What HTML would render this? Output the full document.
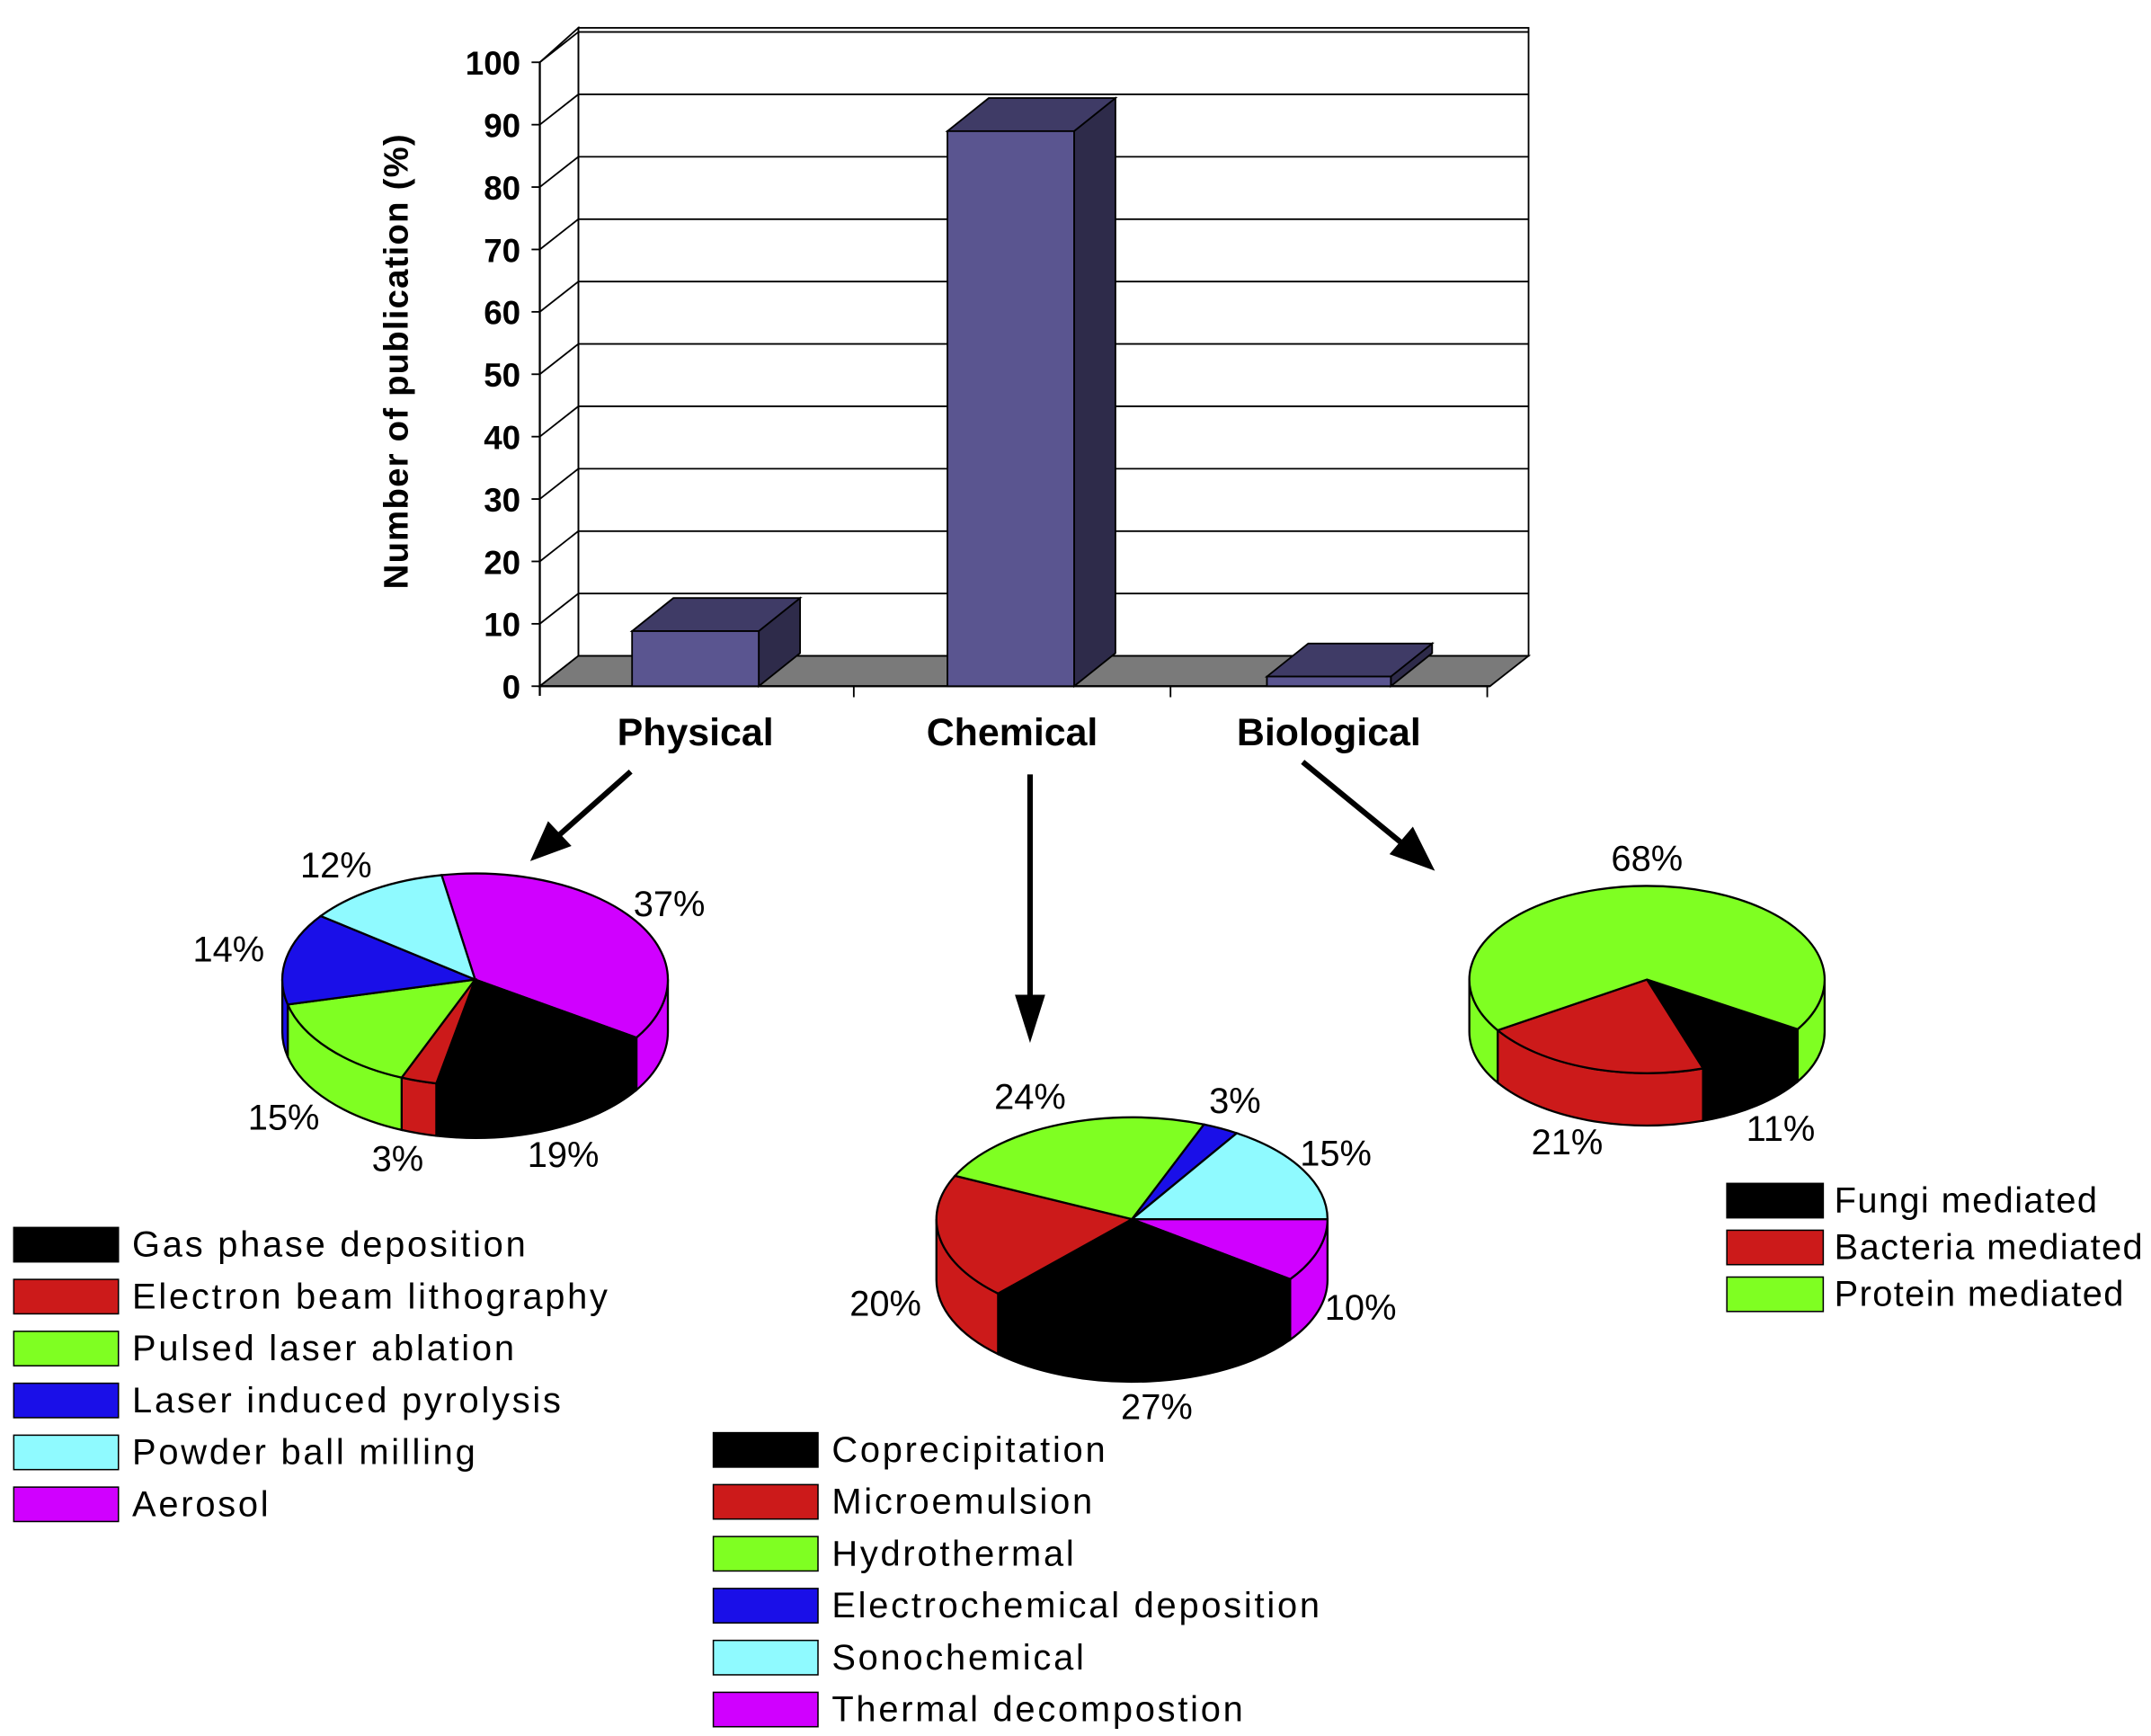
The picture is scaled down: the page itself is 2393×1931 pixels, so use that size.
<!DOCTYPE html>
<html><head><meta charset="utf-8"><style>
html,body{margin:0;padding:0;background:#fff;}
svg{display:block;font-family:"Liberation Sans",Arial,sans-serif;}
</style></head><body>
<svg id="s" width="2393" height="1931" viewBox="0 0 1562 1260" xmlns="http://www.w3.org/2000/svg">
<rect width="1562" height="1260" fill="#fff"/>
<rect x="420" y="20" width="690" height="456" fill="#fff" stroke="#000" stroke-width="1.2"/>
<polygon points="392,45 420,20 420,476 392,498" fill="#fff" stroke="#000" stroke-width="1.2"/>
<polygon points="392,498 420,476 1110,476 1082,498" fill="#7a7a7a" stroke="#000" stroke-width="1.2"/>
<g id="grid" stroke="#000" stroke-width="1.2" fill="none"></g>
<g id="ticks" font-size="24" font-weight="bold" text-anchor="end"></g>
<line x1="392" y1="45" x2="392" y2="505" stroke="#000" stroke-width="1.5"/>
<line x1="392" y1="498" x2="1082" y2="498" stroke="#000" stroke-width="1.5"/>
<g stroke="#000" stroke-width="1.2"><line x1="620" y1="498" x2="620" y2="506"/><line x1="850" y1="498" x2="850" y2="506"/><line x1="1080" y1="498" x2="1080" y2="506"/></g>
<text transform="translate(296,262) rotate(-90)" font-size="25" font-weight="bold" text-anchor="middle" letter-spacing="0.8">Number of publication (%)</text>
<g id="bars" stroke="#000" stroke-width="1.2"></g>
<g font-size="28" font-weight="bold" text-anchor="middle">
<text x="505" y="541">Physical</text><text x="735" y="541">Chemical</text><text x="965" y="541">Biological</text></g>
<g stroke="#000" stroke-width="4"><line x1="458" y1="560" x2="405" y2="607"/><line x1="748" y1="562" x2="748" y2="725"/><line x1="946" y1="553" x2="1018" y2="612"/></g>
<polygon points="385,625 398,596 415,614" fill="#000"/>
<polygon points="748,757 737,722 759,722" fill="#000"/>
<polygon points="1042,632 1009,620 1026,600" fill="#000"/>
<g id="pies" stroke="#000" stroke-width="1.5"></g>
<g font-size="26">
<text x="218" y="637">12%</text><text x="460" y="665">37%</text><text x="140" y="698">14%</text>
<text x="180" y="820">15%</text><text x="270" y="850">3%</text><text x="383" y="847">19%</text>
<text x="722" y="805">24%</text><text x="878" y="808">3%</text><text x="944" y="846">15%</text>
<text x="617" y="955">20%</text><text x="962" y="958">10%</text><text x="814" y="1030">27%</text>
<text x="1170" y="632">68%</text><text x="1112" y="838">21%</text><text x="1268" y="828">11%</text>
</g>
<g id="leg" font-size="26" stroke="#000" stroke-width="1"></g>
<script>
var NS="http://www.w3.org/2000/svg";
function el(p,t,a,txt){var e=document.createElementNS(NS,t);for(var k in a)e.setAttribute(k,a[k]);if(txt!=null)e.textContent=txt;p.appendChild(e);return e;}
var g=document.getElementById('grid'),tk=document.getElementById('ticks');
for(var v=0;v<=100;v+=10){var y=498-v*4.53;
 if(v>0){el(g,'line',{x1:392,y1:y,x2:420,y2:y-22});el(g,'line',{x1:420,y1:y-22,x2:1110,y2:y-22});}
 el(g,'line',{x1:386,y1:y,x2:392,y2:y});
 el(tk,'text',{x:378,y:y+9},String(v));}
var b=document.getElementById('bars');
[[459,551,458],[688,780,95],[920,1010,491]].forEach(function(r){
 var x0=r[0],x1=r[1],t=r[2],dx=30,dy=-24;
 el(b,'polygon',{points:x1+','+t+' '+(x1+dx)+','+(t+dy)+' '+(x1+dx)+','+(498+dy)+' '+x1+',498',fill:'#2e2b4a'});
 el(b,'polygon',{points:x0+','+t+' '+(x0+dx)+','+(t+dy)+' '+(x1+dx)+','+(t+dy)+' '+x1+','+t,fill:'#3f3b66'});
 el(b,'rect',{x:x0,y:t,width:x1-x0,height:498-t,fill:'#5a5590'});
});
var P=document.getElementById('pies');
function pie(cx,cy,rx,ry,d,start,sl){
 function pt(a,dd){var r=a*Math.PI/180;return (cx+rx*Math.cos(r)).toFixed(2)+','+(cy+ry*Math.sin(r)+(dd||0)).toFixed(2);}
 var a=start,segs=[];
 sl.forEach(function(s,i){var a1=(i==sl.length-1)?start+360:a+s[0]*3.6;segs.push([a,a1,s[1]]);a=a1;});
 segs.forEach(function(s){
  [[0,180],[360,540]].forEach(function(w){
   var s0=Math.max(s[0],w[0]),s1=Math.min(s[1],w[1]);
   if(s1>s0){el(P,'path',{d:'M'+pt(s0)+' A'+rx+','+ry+' 0 0 1 '+pt(s1)+' L'+pt(s1,d)+' A'+rx+','+ry+' 0 0 0 '+pt(s0,d)+' Z',fill:s[2]});}
  });
 });
 segs.forEach(function(s){var lg=(s[1]-s[0])>180?1:0;
  el(P,'path',{d:'M'+cx+','+cy+' L'+pt(s[0])+' A'+rx+','+ry+' 0 '+lg+' 1 '+pt(s[1])+' Z',fill:s[2]});});
}
var K='#000',R='#cc1a1a',G='#7fff22',B='#1a0fe8',C='#8ffaff',M='#d000ff';
pie(345,711,140,77,38,260,[[37,M],[19,K],[3,R],[15,G],[14,B],[12,C]]);
pie(822,885,142,74,44,0,[[10,M],[27,K],[20,R],[24,G],[3,B],[15,C]]);
pie(1196,711,129,68,38,32,[[11,K],[21,R],[68,G]]);
var L=document.getElementById('leg');
function leg(x,y,step,sw,off,ls,items){items.forEach(function(it,i){var yy=y+i*step;
 el(L,'rect',{x:x,y:yy,width:sw,height:25,fill:it[1]});
 el(L,'text',{x:x+off,y:yy+21,stroke:'none',fill:'#000','letter-spacing':ls},it[0]);});}
leg(10,891,37.7,76,86,1.8,[['Gas phase deposition',K],['Electron beam lithography',R],['Pulsed laser ablation',G],['Laser induced pyrolysis',B],['Powder ball milling',C],['Aerosol',M]]);
leg(518,1040,37.7,76,86,1.8,[['Coprecipitation',K],['Microemulsion',R],['Hydrothermal',G],['Electrochemical deposition',B],['Sonochemical',C],['Thermal decompostion',M]]);
leg(1254,859,34,70,78,0.9,[['Fungi mediated',K],['Bacteria mediated',R],['Protein mediated',G]]);
</script>
</svg>
</body></html>
